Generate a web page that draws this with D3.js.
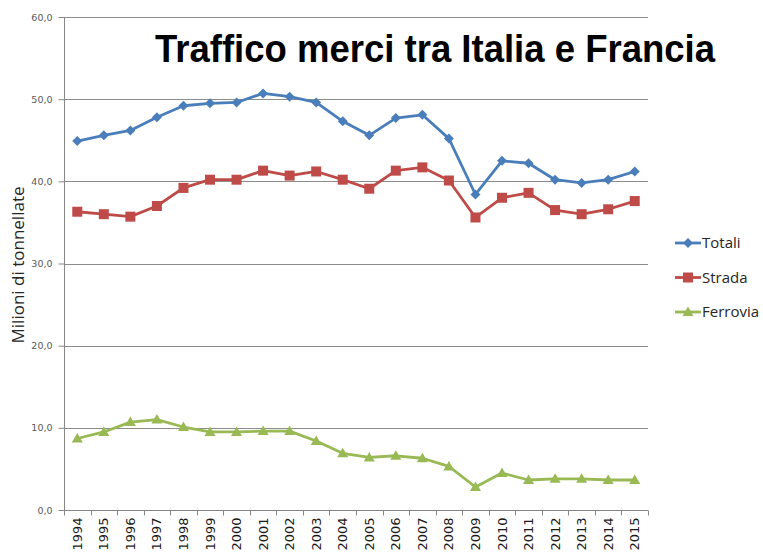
<!DOCTYPE html>
<html>
<head>
<meta charset="utf-8">
<script src="https://cdn.jsdelivr.net/npm/d3@7"></script>
<style>
  html, body { margin: 0; padding: 0; background: #fff; }
  svg { display: block; }
</style>
</head>
<body>
<div id="chart"></div>
<script>
var years = ['1994', '1995', '1996', '1997', '1998', '1999', '2000', '2001', '2002', '2003', '2004',
  '2005', '2006', '2007', '2008', '2009', '2010', '2011', '2012', '2013', '2014', '2015'];
var totali = [44.9, 45.6, 46.2, 47.8, 49.2, 49.5, 49.6, 50.7, 50.3, 49.6, 47.3,
  45.6, 47.7, 48.1, 45.2, 38.4, 42.5, 42.2, 40.2, 39.8, 40.2, 41.2];
var strada = [36.3, 36.0, 35.7, 37.0, 39.2, 40.2, 40.2, 41.3, 40.7, 41.2, 40.2,
  39.1, 41.3, 41.7, 40.1, 35.6, 38.0, 38.6, 36.5, 36.0, 36.6, 37.6];
var ferrovia = [8.7, 9.5, 10.7, 11.0, 10.1, 9.5, 9.5, 9.6, 9.6, 8.4, 6.9,
  6.4, 6.6, 6.3, 5.3, 2.8, 4.5, 3.65, 3.8, 3.8, 3.65, 3.65];
var yTicks = [0, 10, 20, 30, 40, 50, 60];
var seriesNames = ['Totali', 'Strada', 'Ferrovia'];

(function () {
  var series = [
    { name: seriesNames[0], values: totali, color: '#4a7ebb', shape: 'diamond' },
    { name: seriesNames[1], values: strada, color: '#be4b48', shape: 'square' },
    { name: seriesNames[2], values: ferrovia, color: '#98b954', shape: 'triangle' }
  ];

  var width = 763, height = 552;
  var plotLeft = 64, plotRight = 648, plotTop = 17, plotBottom = 510;

  var svg = d3.select('#chart').append('svg')
    .attr('width', width)
    .attr('height', height);

  var x = d3.scaleBand().domain(years).range([plotLeft, plotRight]);
  var y = d3.scaleLinear().domain([0, 60]).range([plotBottom, plotTop]);

  // gridlines
  svg.append('g')
    .selectAll('line')
    .data(yTicks.slice(1))
    .enter().append('line')
    .attr('x1', plotLeft).attr('x2', plotRight)
    .attr('y1', function (d) { return Math.round(y(d)) + 0.5; })
    .attr('y2', function (d) { return Math.round(y(d)) + 0.5; })
    .attr('stroke', '#8c8c8c')
    .attr('stroke-width', 1);

  // y axis
  var yAxis = svg.append('g')
    .attr('transform', 'translate(' + (plotLeft + 0.5) + ',0)')
    .call(d3.axisLeft(y).tickValues(yTicks).tickSize(6).tickPadding(6)
      .tickFormat(function (d) { return d3.format('.1f')(d).replace('.', ','); }));
  yAxis.selectAll('path, line').attr('stroke', '#868686');
  yAxis.select('.domain').attr('d', 'M0,' + plotBottom + 'V' + plotTop);
  yAxis.selectAll('text')
    .attr('fill', '#595959')
    .style('font-family', 'DejaVu Sans, sans-serif')
    .style('font-size', '9.5px');

  // x axis
  var xAxis = svg.append('g')
    .attr('transform', 'translate(0,' + (plotBottom + 0.5) + ')')
    .call(d3.axisBottom(x).tickSize(0).tickPadding(0));
  xAxis.select('.domain').attr('stroke', '#868686').attr('d', 'M' + plotLeft + ',0H' + plotRight);
  xAxis.selectAll('.tick text')
    .attr('transform', 'rotate(-90)')
    .attr('x', -7).attr('y', 0).attr('dy', '0.35em')
    .attr('text-anchor', 'end')
    .attr('fill', '#1a1a1a')
    .style('font-family', 'DejaVu Sans, sans-serif')
    .style('font-size', '13px');
  // tick marks at category boundaries
  xAxis.append('g')
    .selectAll('line')
    .data(years.concat(['end']))
    .enter().append('line')
    .attr('x1', function (d, i) { return Math.round(plotLeft + i * x.step()) + 0.5; })
    .attr('x2', function (d, i) { return Math.round(plotLeft + i * x.step()) + 0.5; })
    .attr('y1', 0).attr('y2', 5)
    .attr('stroke', '#868686');

  // lines
  var line = d3.line()
    .x(function (d, i) { return x(years[i]) + x.bandwidth() / 2; })
    .y(function (d) { return y(d); });

  function markerPath(shape) {
    if (shape === 'diamond') return 'M0,-5L5,0L0,5L-5,0Z';
    if (shape === 'square') return 'M-5,-5H5V5H-5Z';
    return 'M0,-5.5L5.5,4L-5.5,4Z';
  }

  series.forEach(function (s) {
    svg.append('path')
      .datum(s.values)
      .attr('d', line)
      .attr('fill', 'none')
      .attr('stroke', s.color)
      .attr('stroke-width', 2.8)
      .attr('stroke-linejoin', 'round');

    svg.append('g')
      .selectAll('path')
      .data(s.values)
      .enter().append('path')
      .attr('d', markerPath(s.shape))
      .attr('transform', function (d, i) {
        return 'translate(' + (x(years[i]) + x.bandwidth() / 2) + ',' + y(d) + ')';
      })
      .attr('fill', s.color);
  });

  // title
  svg.append('text')
    .attr('x', 155).attr('y', 62)
    .attr('textLength', 560)
    .attr('lengthAdjust', 'spacingAndGlyphs')
    .style('font-family', 'Liberation Sans, Arial, sans-serif')
    .style('font-weight', 'bold')
    .style('font-size', '38px')
    .attr('fill', '#000')
    .text('Traffico merci tra Italia e Francia');

  // y axis title
  svg.append('text')
    .attr('transform', 'translate(24,265) rotate(-90)')
    .attr('text-anchor', 'middle')
    .style('font-family', 'Open Sans, sans-serif')
    .style('font-size', '17px')
    .attr('fill', '#262626')
    .text('Milioni di tonnellate');

  // legend
  var legend = svg.append('g')
    .selectAll('g')
    .data(series)
    .enter().append('g')
    .attr('transform', function (d, i) { return 'translate(675,' + (243 + i * 34.5) + ')'; });
  legend.append('line')
    .attr('x1', 0).attr('x2', 26)
    .attr('stroke', function (d) { return d.color; })
    .attr('stroke-width', 2.8);
  legend.append('path')
    .attr('d', function (d) { return markerPath(d.shape); })
    .attr('transform', 'translate(13,0)')
    .attr('fill', function (d) { return d.color; });
  legend.append('text')
    .attr('x', 27).attr('dy', '0.35em')
    .style('font-family', 'Open Sans, sans-serif')
    .style('font-size', '15px')
    .attr('fill', '#262626')
    .text(function (d) { return d.name; });
})();
</script>
</body>
</html>
